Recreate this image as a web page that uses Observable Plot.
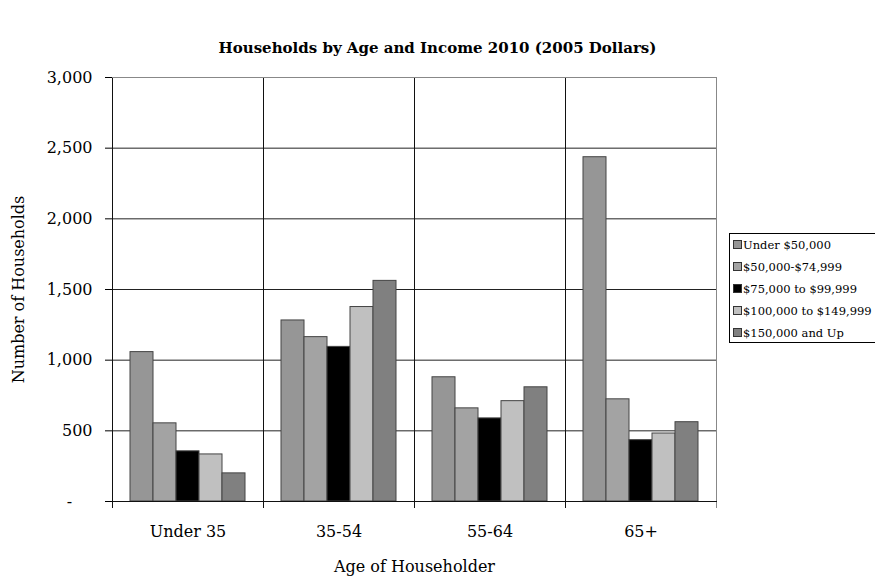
<!DOCTYPE html>
<html>
<head>
<meta charset="utf-8">
<script src="https://cdn.jsdelivr.net/npm/d3@7"></script>
<script src="https://cdn.jsdelivr.net/npm/@observablehq/plot@0.6"></script>
<style>
  html, body { margin: 0; padding: 0; background: #fff; }
  body { width: 875px; height: 578px; overflow: hidden; position: relative; font-family: "DejaVu Serif", serif; }
  #title { height: 62px; box-sizing: border-box; padding-top: 39px; text-align: center; font-weight: bold; font-size: 15px; color: #000; }
  #legend { position: absolute; left: 729px; top: 233px; width: 150px; height: 110px; box-sizing: border-box; border: 1px solid #000; background: #fff; }
  .item { position: absolute; left: 3px; font-size: 11.5px; color: #000; white-space: nowrap; line-height: 14px; }
  .sw { display: inline-block; width: 7px; height: 7px; border: 1px solid #333; margin-right: 1px; vertical-align: 0px; }
</style>
</head>
<body>
<div id="title">Households by Age and Income 2010 (2005 Dollars)</div>
<div id="chart"></div>
<div id="legend"></div>
<script>
const ages = ["Under 35", "35-54", "55-64", "65+"];
const brackets = ["Under $50,000", "$50,000-$74,999", "$75,000 to $99,999", "$100,000 to $149,999", "$150,000 and Up"];
const colors = ["#969696", "#a3a3a3", "#000000", "#c0c0c0", "#808080"];
const under50k = [1057, 1281, 879, 2436];
const k50to75 = [553, 1163, 659, 723];
const k75to100 = [355, 1094, 588, 434];
const k100to150 = [333, 1376, 710, 481];
const k150up = [199, 1561, 808, 561];
const yTicks = [0, 500, 1000, 1500, 2000, 2500, 3000];

const series = [under50k, k50to75, k75to100, k100to150, k150up];
const table = [];
ages.forEach((age, i) => {
  brackets.forEach((b, j) => table.push({age, bracket: b, value: series[j][i]}));
});

const fmt = d3.format(",");
const chart = Plot.plot({
  width: 875,
  height: 516,
  marginLeft: 111,
  marginRight: 159,
  marginTop: 15,
  marginBottom: 77,
  style: {fontFamily: "DejaVu Serif, serif", fontSize: "16px", color: "#000", background: "#fff"},
  fx: {domain: ages, paddingInner: 0, paddingOuter: 0, label: "Age of Householder", labelAnchor: "center", labelArrow: "none", labelOffset: 70, tickSize: 0, tickPadding: 24},
  x: {domain: brackets, paddingInner: 0, paddingOuter: 0.73, axis: null},
  y: {domain: [0, 3000], ticks: yTicks, tickFormat: d => d === 0 ? "-\u00a0\u00a0\u00a0\u00a0" : fmt(d), tickSize: 7, tickPadding: 13, label: "Number of Households", labelAnchor: "center", labelArrow: "none", labelOffset: 100},
  color: {domain: brackets, range: colors},
  marks: [
    Plot.ruleY(yTicks.filter(d => d > 0 && d < 3000), {stroke: "#222", strokeWidth: 1}),
    Plot.barY(table, {fx: "age", x: "bracket", y: "value", fill: "bracket", stroke: "#444", strokeWidth: 1}),
    Plot.frame({anchor: "right", stroke: "#888", strokeWidth: 1, insetBottom: -6}),
    Plot.frame({anchor: "left", stroke: "#111", strokeWidth: 1, insetBottom: -6}),
    Plot.frame({anchor: "bottom", stroke: "#111", strokeWidth: 1}),
    Plot.frame({anchor: "top", stroke: "#888", strokeWidth: 1})
  ]
});
document.getElementById("chart").appendChild(chart);

const legend = document.getElementById("legend");
brackets.forEach((b, i) => {
  const div = document.createElement("div");
  div.className = "item";
  div.style.top = (4 + i * 22) + "px";
  const sw = document.createElement("span");
  sw.className = "sw";
  sw.style.background = colors[i];
  div.appendChild(sw);
  div.appendChild(document.createTextNode(b));
  legend.appendChild(div);
});
</script>
</body>
</html>
